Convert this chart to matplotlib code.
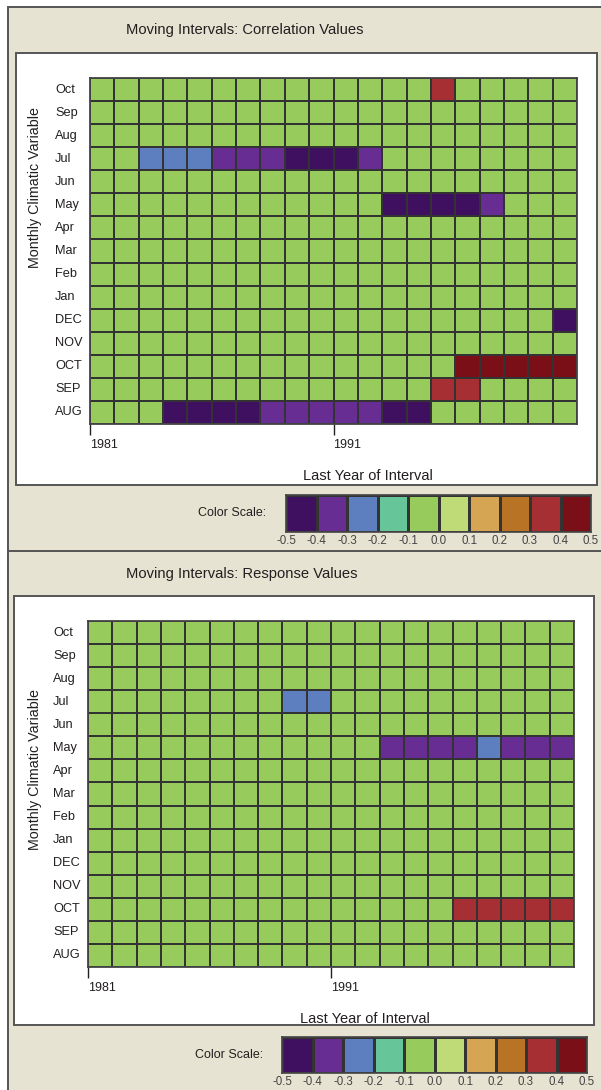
import matplotlib
matplotlib.use("Agg")
import matplotlib.pyplot as plt
from matplotlib.colors import ListedColormap, BoundaryNorm
from matplotlib.patches import Rectangle
import numpy as np

plt.rcParams['font.family'] = ['Liberation Sans', 'DejaVu Sans']

# categories
years = [1981, 1982, 1983, 1984, 1985, 1986, 1987, 1988, 1989, 1990,
         1991, 1992, 1993, 1994, 1995, 1996, 1997, 1998, 1999, 2000]
year_ticks = [1981, 1991]
months = ['Oct', 'Sep', 'Aug', 'Jul', 'Jun', 'May', 'Apr', 'Mar', 'Feb', 'Jan',
          'DEC', 'NOV', 'OCT', 'SEP', 'AUG']

# color scale
scale_bounds = [-0.5, -0.4, -0.3, -0.2, -0.1, 0.0, 0.1, 0.2, 0.3, 0.4, 0.5]
scale_colors = ['#3f1060', '#682d92', '#5e7fbf', '#67c59a', '#97cb5c',
                '#bfdb78', '#d6a553', '#b97324', '#a52f33', '#7a0f18']

# correlation values, one row per month (top to bottom)
corr_values = [
    [-.05, -.05, -.05, -.05, -.05, -.05, -.05, -.05, -.05, -.05, -.05, -.05, -.05, -.05, .35, -.05, -.05, -.05, -.05, -.05],
    [-.05, -.05, -.05, -.05, -.05, -.05, -.05, -.05, -.05, -.05, -.05, -.05, -.05, -.05, -.05, -.05, -.05, -.05, -.05, -.05],
    [-.05, -.05, -.05, -.05, -.05, -.05, -.05, -.05, -.05, -.05, -.05, -.05, -.05, -.05, -.05, -.05, -.05, -.05, -.05, -.05],
    [-.05, -.05, -.25, -.25, -.25, -.35, -.35, -.35, -.45, -.45, -.45, -.35, -.05, -.05, -.05, -.05, -.05, -.05, -.05, -.05],
    [-.05, -.05, -.05, -.05, -.05, -.05, -.05, -.05, -.05, -.05, -.05, -.05, -.05, -.05, -.05, -.05, -.05, -.05, -.05, -.05],
    [-.05, -.05, -.05, -.05, -.05, -.05, -.05, -.05, -.05, -.05, -.05, -.05, -.45, -.45, -.45, -.45, -.35, -.05, -.05, -.05],
    [-.05, -.05, -.05, -.05, -.05, -.05, -.05, -.05, -.05, -.05, -.05, -.05, -.05, -.05, -.05, -.05, -.05, -.05, -.05, -.05],
    [-.05, -.05, -.05, -.05, -.05, -.05, -.05, -.05, -.05, -.05, -.05, -.05, -.05, -.05, -.05, -.05, -.05, -.05, -.05, -.05],
    [-.05, -.05, -.05, -.05, -.05, -.05, -.05, -.05, -.05, -.05, -.05, -.05, -.05, -.05, -.05, -.05, -.05, -.05, -.05, -.05],
    [-.05, -.05, -.05, -.05, -.05, -.05, -.05, -.05, -.05, -.05, -.05, -.05, -.05, -.05, -.05, -.05, -.05, -.05, -.05, -.05],
    [-.05, -.05, -.05, -.05, -.05, -.05, -.05, -.05, -.05, -.05, -.05, -.05, -.05, -.05, -.05, -.05, -.05, -.05, -.05, -.45],
    [-.05, -.05, -.05, -.05, -.05, -.05, -.05, -.05, -.05, -.05, -.05, -.05, -.05, -.05, -.05, -.05, -.05, -.05, -.05, -.05],
    [-.05, -.05, -.05, -.05, -.05, -.05, -.05, -.05, -.05, -.05, -.05, -.05, -.05, -.05, -.05, .45, .45, .45, .45, .45],
    [-.05, -.05, -.05, -.05, -.05, -.05, -.05, -.05, -.05, -.05, -.05, -.05, -.05, -.05, .35, .35, -.05, -.05, -.05, -.05],
    [-.05, -.05, -.05, -.45, -.45, -.45, -.45, -.35, -.35, -.35, -.35, -.35, -.45, -.45, -.05, -.05, -.05, -.05, -.05, -.05],
]

# response values, one row per month (top to bottom)
resp_values = [
    [-.05, -.05, -.05, -.05, -.05, -.05, -.05, -.05, -.05, -.05, -.05, -.05, -.05, -.05, -.05, -.05, -.05, -.05, -.05, -.05],
    [-.05, -.05, -.05, -.05, -.05, -.05, -.05, -.05, -.05, -.05, -.05, -.05, -.05, -.05, -.05, -.05, -.05, -.05, -.05, -.05],
    [-.05, -.05, -.05, -.05, -.05, -.05, -.05, -.05, -.05, -.05, -.05, -.05, -.05, -.05, -.05, -.05, -.05, -.05, -.05, -.05],
    [-.05, -.05, -.05, -.05, -.05, -.05, -.05, -.05, -.25, -.25, -.05, -.05, -.05, -.05, -.05, -.05, -.05, -.05, -.05, -.05],
    [-.05, -.05, -.05, -.05, -.05, -.05, -.05, -.05, -.05, -.05, -.05, -.05, -.05, -.05, -.05, -.05, -.05, -.05, -.05, -.05],
    [-.05, -.05, -.05, -.05, -.05, -.05, -.05, -.05, -.05, -.05, -.05, -.05, -.35, -.35, -.35, -.35, -.25, -.35, -.35, -.35],
    [-.05, -.05, -.05, -.05, -.05, -.05, -.05, -.05, -.05, -.05, -.05, -.05, -.05, -.05, -.05, -.05, -.05, -.05, -.05, -.05],
    [-.05, -.05, -.05, -.05, -.05, -.05, -.05, -.05, -.05, -.05, -.05, -.05, -.05, -.05, -.05, -.05, -.05, -.05, -.05, -.05],
    [-.05, -.05, -.05, -.05, -.05, -.05, -.05, -.05, -.05, -.05, -.05, -.05, -.05, -.05, -.05, -.05, -.05, -.05, -.05, -.05],
    [-.05, -.05, -.05, -.05, -.05, -.05, -.05, -.05, -.05, -.05, -.05, -.05, -.05, -.05, -.05, -.05, -.05, -.05, -.05, -.05],
    [-.05, -.05, -.05, -.05, -.05, -.05, -.05, -.05, -.05, -.05, -.05, -.05, -.05, -.05, -.05, -.05, -.05, -.05, -.05, -.05],
    [-.05, -.05, -.05, -.05, -.05, -.05, -.05, -.05, -.05, -.05, -.05, -.05, -.05, -.05, -.05, -.05, -.05, -.05, -.05, -.05],
    [-.05, -.05, -.05, -.05, -.05, -.05, -.05, -.05, -.05, -.05, -.05, -.05, -.05, -.05, -.05, .35, .35, .35, .35, .35],
    [-.05, -.05, -.05, -.05, -.05, -.05, -.05, -.05, -.05, -.05, -.05, -.05, -.05, -.05, -.05, -.05, -.05, -.05, -.05, -.05],
    [-.05, -.05, -.05, -.05, -.05, -.05, -.05, -.05, -.05, -.05, -.05, -.05, -.05, -.05, -.05, -.05, -.05, -.05, -.05, -.05],
]

W, H = 601, 1090
BEIGE = '#e6e3d2'
FRAME = '#555555'
INK = '#231f20'
GRIDLINE = '#333333'

cmap = ListedColormap(scale_colors)
norm = BoundaryNorm(scale_bounds, cmap.N)

fig = plt.figure(figsize=(W / 100, H / 100), dpi=100, facecolor='white')

# background layer in pixel units
bg = fig.add_axes([0, 0, 1, 1])
bg.set_xlim(0, W)
bg.set_ylim(H, 0)
bg.axis('off')


def px_rect(x0, y0, x1, y1):
    # pixel box -> figure fraction [left, bottom, width, height]
    return [x0 / W, 1 - y1 / H, (x1 - x0) / W, (y1 - y0) / H]


def draw_panel(values, title, top, white_box, grid_box, ylab_y, xlab_pos, scale_box, scale_lab_x):
    # beige panel and white plot area
    bg.add_patch(Rectangle((8, top), W, 600, facecolor=BEIGE, edgecolor=FRAME, lw=1.4))
    x0, y0, x1, y1 = white_box
    bg.add_patch(Rectangle((x0, y0), x1 - x0, y1 - y0, facecolor='white', edgecolor=FRAME, lw=1.4))

    bg.text(126, top + 23, title, fontsize=10.6, color=INK, ha='left', va='center')

    gx0, gy0, gx1, gy1 = grid_box
    bg.text(35, ylab_y, 'Monthly Climatic Variable', rotation=90, fontsize=10.3,
            color=INK, ha='center', va='center')
    bg.text(xlab_pos[0], xlab_pos[1], 'Last Year of Interval', fontsize=10.5,
            color=INK, ha='center', va='bottom')

    ax = fig.add_axes(px_rect(gx0, gy0, gx1, gy1))
    data = np.array(values)
    ax.pcolormesh(np.arange(len(years) + 1), np.arange(len(months) + 1), data,
                  cmap=cmap, norm=norm, edgecolors=GRIDLINE, linewidth=1.1)
    ax.set_xlim(0, len(years))
    ax.set_ylim(len(months), 0)
    for s in ax.spines.values():
        s.set_color('#444444')
        s.set_linewidth(1.3)

    ax.set_yticks([])
    for i, m in enumerate(months):
        ax.text(-35 / (gx1 - gx0), i + 0.5, m, transform=ax.get_yaxis_transform(),
                fontsize=9.2, color=INK, ha='left', va='center')

    ax.set_xticks([years.index(y) for y in year_ticks])
    ax.set_xticklabels([str(y) for y in year_ticks], ha='left')
    ax.tick_params(axis='x', direction='out', length=8, width=1, color=INK,
                   labelsize=9, labelcolor=INK, pad=3)

    # colour scale
    bg.text(scale_lab_x, (scale_box[1] + scale_box[3]) / 2, 'Color Scale:', fontsize=9,
            color=INK, ha='right', va='center')
    cax = fig.add_axes(px_rect(*scale_box))
    cax.pcolormesh(scale_bounds, [0, 1], np.array([np.array(scale_bounds[:-1]) + 0.05]),
                   cmap=cmap, norm=norm, edgecolors=GRIDLINE, linewidth=1.0)
    cax.set_xlim(scale_bounds[0], scale_bounds[-1])
    cax.set_yticks([])
    cax.set_xticks(scale_bounds)
    cax.set_xticklabels(['%.1f' % b for b in scale_bounds])
    cax.tick_params(axis='x', length=0, labelsize=8.3, labelcolor='#444444', pad=2)
    for s in cax.spines.values():
        s.set_color('#444444')
        s.set_linewidth(1.2)


draw_panel(corr_values, 'Moving Intervals: Correlation Values', 7,
           (16, 53, 597, 485), (90, 78, 577, 424), 188, (368, 483),
           (286, 495, 591, 532), 266)
draw_panel(resp_values, 'Moving Intervals: Response Values', 551,
           (14, 596, 594, 1025), (88, 621, 574, 967), 770, (365, 1026),
           (282, 1037, 587, 1073), 263)

fig.savefig('out.png', dpi=100, facecolor='white')
